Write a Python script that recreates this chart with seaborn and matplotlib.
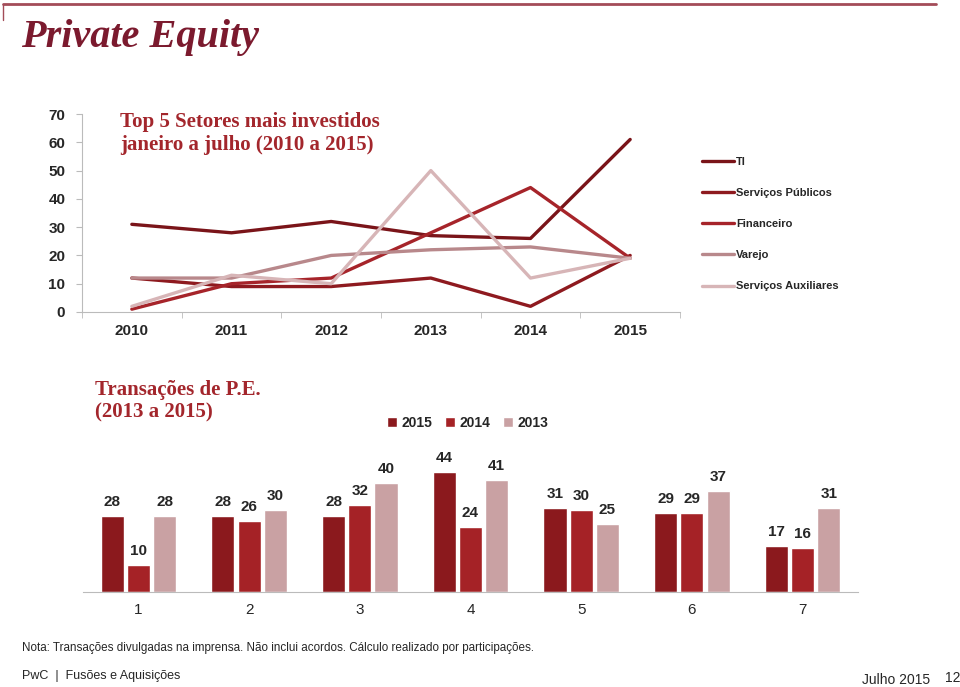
import pandas as pd
import numpy as np
import matplotlib
matplotlib.use('Agg')
import matplotlib.pyplot as plt
from matplotlib.lines import Line2D
from matplotlib.patches import Patch
import seaborn as sns

# --- data: top 5 sectors (line chart) ---
years = ['2010', '2011', '2012', '2013', '2014', '2015']
sectors = ['TI', 'Serviços Públicos', 'Financeiro', 'Varejo', 'Serviços Auxiliares']
ti = [31, 28, 32, 27, 26, 61]
serv_publicos = [12, 9, 9, 12, 2, 20]
financeiro = [1, 10, 12, 28, 44, 19]
varejo = [12, 12, 20, 22, 23, 19]
serv_auxiliares = [2, 13, 10, 50, 12, 19]
line_colors = ['#7A1419', '#8E1A1F', '#A6242A', '#B8888B', '#D7B5B7']
y_ticks = [0, 10, 20, 30, 40, 50, 60, 70]

# --- data: P.E. transactions (bar chart) ---
groups = ['1', '2', '3', '4', '5', '6', '7']
bar_years = ['2015', '2014', '2013']
tx_2015 = [28, 28, 28, 44, 31, 29, 17]
tx_2014 = [10, 26, 32, 24, 30, 29, 16]
tx_2013 = [28, 30, 40, 41, 25, 37, 31]
bar_colors = ['#8B191D', '#A52226', '#C9A1A3']

sns.set_style('white')
plt.rcParams['font.family'] = ['Liberation Sans', 'DejaVu Sans']

fig = plt.figure(figsize=(9.6, 6.87), dpi=100)

# header
fig.add_artist(Line2D([3/960, 936/960], [1 - 4/687, 1 - 4/687], color='#A34C58', lw=2))
fig.add_artist(Line2D([3/960, 3/960], [1 - 4/687, 1 - 20/687], color='#A34C58', lw=1))
fig.text(21/960, 1 - 37/687, 'Private Equity', family='Liberation Serif', weight='bold',
         style='italic', size=29, color='#7B1A2E', va='center')

# ---------- line chart ----------
lines_df = pd.DataFrame({
    'ano': years * 5,
    'setor': np.repeat(sectors, len(years)),
    'valor': ti + serv_publicos + financeiro + varejo + serv_auxiliares,
})
lines_df['pos'] = lines_df['ano'].map({y: i for i, y in enumerate(years)})

ax1 = fig.add_axes([82/960, 1 - 312/687, 598/960, 198/687])
sns.lineplot(data=lines_df, x='pos', y='valor', hue='setor', hue_order=sectors,
             palette=dict(zip(sectors, line_colors)), linewidth=2.4, ax=ax1, legend=False)
ax1.set_xlim(-0.5, len(years) - 0.5)
ax1.set_ylim(0, 70)
ax1.set_yticks(y_ticks)
ax1.set_xticks(range(len(years)))
ax1.set_xticklabels(years)
ax1.set_xticks(np.arange(-0.5, len(years)), minor=True)
ax1.tick_params(axis='x', which='major', length=0, pad=9, labelsize=11)
ax1.tick_params(axis='x', which='minor', length=4, color='#BBBBBB', direction='out', bottom=True)
ax1.tick_params(axis='y', length=4, color='#BBBBBB', direction='out', left=True, labelsize=11, pad=8)
for lab in ax1.get_xticklabels() + ax1.get_yticklabels():
    lab.set_fontweight('bold')
ax1.set_xlabel('')
ax1.set_ylabel('')
for s in ['top', 'right']:
    ax1.spines[s].set_visible(False)
for s in ['left', 'bottom']:
    ax1.spines[s].set_color('#BBBBBB')

fig.text(120/960, 1 - 112/687, 'Top 5 Setores mais investidos\njaneiro a julho (2010 a 2015)',
         family='Liberation Serif', weight='bold', size=15, color='#A3262C',
         va='top', linespacing=1.2)

handles = [Line2D([0], [0], color=c, lw=2.4) for c in line_colors]
ax1.legend(handles, sectors, loc='upper left', bbox_to_anchor=(692/960, 1 - 147/687),
           bbox_transform=fig.transFigure, frameon=False, prop={'size': 8, 'weight': 'bold'},
           handlelength=2.9, handletextpad=0.15, labelspacing=1.9)

# ---------- bar chart ----------
bars_df = pd.DataFrame({
    'grupo': groups * 3,
    'ano': np.repeat(bar_years, len(groups)),
    'n': tx_2015 + tx_2014 + tx_2013,
})

ax2 = fig.add_axes([83/960, 1 - 592/687, 775/960, 147/687])
sns.barplot(data=bars_df, x='grupo', y='n', hue='ano', hue_order=bar_years,
            palette=dict(zip(bar_years, bar_colors)), width=0.71, gap=0.12,
            saturation=1, ax=ax2, legend=False)
ax2.set_ylim(0, 54)
for cont in ax2.containers:
    ax2.bar_label(cont, padding=5, fontsize=11, fontweight='bold')
ax2.set_yticks([])
ax2.set_xlabel('')
ax2.set_ylabel('')
ax2.tick_params(axis='x', length=0, pad=8, labelsize=11)
for s in ['top', 'right', 'left']:
    ax2.spines[s].set_visible(False)
ax2.spines['bottom'].set_color('#BBBBBB')

fig.text(95/960, 1 - 380/687, 'Transações de P.E.\n(2013 a 2015)',
         family='Liberation Serif', weight='bold', size=15, color='#A3262C',
         va='top', linespacing=1.15)

bar_handles = [Patch(facecolor=c) for c in bar_colors]
ax2.legend(bar_handles, bar_years, loc='center', bbox_to_anchor=(468/960, 1 - 423/687),
           bbox_transform=fig.transFigure, ncol=3, frameon=False,
           prop={'size': 10, 'weight': 'bold'}, handlelength=0.7, handleheight=0.7,
           handletextpad=0.35, columnspacing=0.9)

# footer
fig.text(22/960, 1 - 648/687, 'Nota: Transações divulgadas na imprensa. Não inclui acordos. '
         'Cálculo realizado por participações.', size=8.4, va='center')
fig.text(22/960, 1 - 676/687, 'PwC  |  Fusões e Aquisições', size=9, va='center')
fig.text(930/960, 1 - 680/687, 'Julho 2015', size=10, va='center', ha='right')
fig.text(945/960, 1 - 678/687, '12', size=10, va='center')

fig.savefig('out.png', dpi=100)
